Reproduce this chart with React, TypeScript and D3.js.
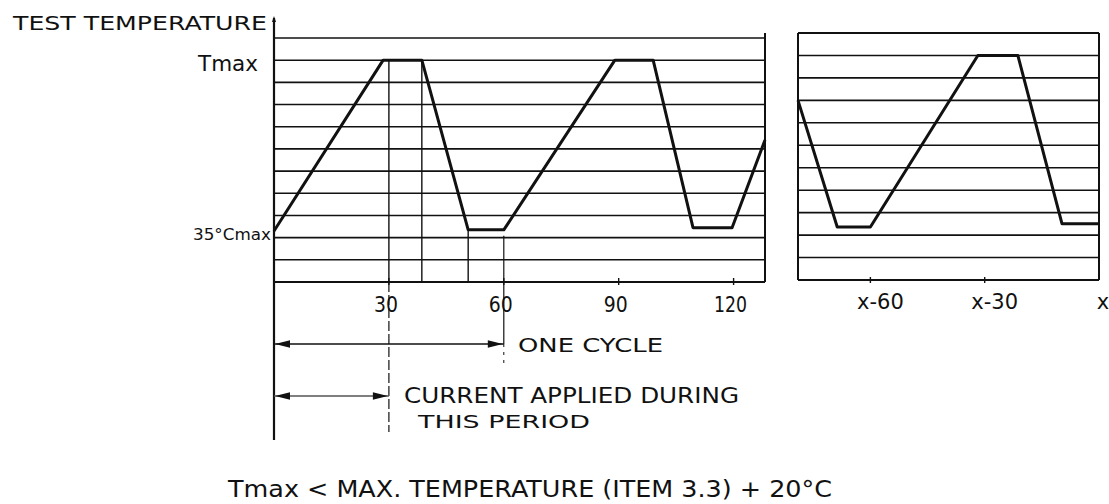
import React from "react";
import * as d3 from "d3";

// ---- data ----
const leftTimes = [0, 28.5, 38.6, 50.7, 60, 89, 99, 109.4, 119.6, 128.2];
const leftLevels = [2.3, 10, 10, 2.35, 2.35, 10, 10, 2.45, 2.45, 6.4];
const rightTimes = [-79, -68.7, -60, -31.8, -21.3, -9.7, 0];
const rightLevels = [8.0, 2.36, 2.36, 10, 10, 2.5, 2.5];
const gridLevels = d3.range(0, 12);
const leftTickValues = [30, 60, 90, 120];
const leftTickLabels = ["30", "60", "90", "120"];
const rightTickValues = [-60, -30, 0];
const rightTickLabels = ["x-60", "x-30", "x"];
const oneCycle = [0, 60];
const currentPeriod = [0, 30];

const W = 1109;
const H = 504;
const FONT = "'DejaVu Sans', 'Liberation Sans', sans-serif";

export default function App() {
  const xL = d3.scaleLinear().domain([0, 128.2]).range([274, 765]);
  const yL = d3.scaleLinear().domain([0, 11]).range([282, 38]);
  const xR = d3.scaleLinear().domain([-79, 0]).range([798, 1099]);
  const yR = d3.scaleLinear().domain([0, 11]).range([280, 33]);

  const lineL = d3
    .line<number>()
    .x((_, i) => xL(leftTimes[i]))
    .y((_, i) => yL(leftLevels[i]));
  const lineR = d3
    .line<number>()
    .x((_, i) => xR(rightTimes[i]))
    .y((_, i) => yR(rightLevels[i]));

  const ink = "#111";
  const yAxisBottom = 440;
  const ocY = 344;
  const cpY = 396;

  const arrowHead = (x: number, y: number, dir: number, key: string) => {
    const len = 15;
    const hw = 3.8;
    const p = `M${x},${y} L${x - dir * len},${y - hw} L${x - dir * len},${y + hw} Z`;
    return <path key={key} d={p} fill={ink} />;
  };

  return (
    <svg
      width={W}
      height={H}
      style={{ position: "absolute", left: 0, top: 0, background: "#fff" }}
      fontFamily={FONT}
    >
      <rect x={0} y={0} width={W} height={H} fill="#fff" />

      {/* Left panel grid */}
      {gridLevels.map((g) => (
        <line
          key={"gl" + g}
          x1={xL(0)}
          x2={xL(128.2)}
          y1={yL(g)}
          y2={yL(g)}
          stroke={ink}
          strokeWidth={g === 0 ? 2 : 1.6}
        />
      ))}
      <line x1={xL(128.2)} x2={xL(128.2)} y1={33} y2={yL(0)} stroke={ink} strokeWidth={2} />
      {/* left vertical axis */}
      <line x1={xL(0)} x2={xL(0)} y1={18} y2={yAxisBottom} stroke={ink} strokeWidth={2.2} />
      <path d={`M${xL(0)},16 l-2,6 l4,0 Z`} fill={ink} />

      {/* Right panel grid */}
      {gridLevels.map((g) => (
        <line
          key={"gr" + g}
          x1={xR(-79)}
          x2={xR(0)}
          y1={yR(g)}
          y2={yR(g)}
          stroke={ink}
          strokeWidth={g === 0 || g === 11 ? 2 : 1.6}
        />
      ))}
      <line x1={xR(-79)} x2={xR(-79)} y1={yR(11)} y2={yR(0)} stroke={ink} strokeWidth={2} />
      <line x1={xR(0)} x2={xR(0)} y1={yR(11)} y2={yR(0)} stroke={ink} strokeWidth={2} />

      {/* vertical reference lines, left panel */}
      <line x1={xL(30)} x2={xL(30)} y1={yL(10)} y2={yL(0)} stroke={ink} strokeWidth={1.4} />
      <line x1={xL(30)} x2={xL(30)} y1={yL(0)} y2={432} stroke={ink} strokeWidth={1.2} strokeDasharray="10 3" />
      <line x1={xL(leftTimes[2])} x2={xL(leftTimes[2])} y1={yL(10)} y2={yL(0)} stroke={ink} strokeWidth={1.4} />
      <line x1={xL(leftTimes[3])} x2={xL(leftTimes[3])} y1={yL(leftLevels[3])} y2={yL(0)} stroke={ink} strokeWidth={1.4} />
      <line x1={xL(60)} x2={xL(60)} y1={yL(leftLevels[4]) + 6} y2={ocY} stroke={ink} strokeWidth={1.2} />
      <line x1={xL(60)} x2={xL(60)} y1={ocY} y2={368} stroke={ink} strokeWidth={1} strokeDasharray="3 5" />

      {/* tick marks */}
      {leftTickValues.map((t) => (
        <line key={"tl" + t} x1={xL(t)} x2={xL(t)} y1={yL(0) - 4} y2={yL(0) + 3} stroke={ink} strokeWidth={1.4} />
      ))}
      {rightTickValues.slice(0, 2).map((t) => (
        <line key={"tr" + t} x1={xR(t)} x2={xR(t)} y1={yR(0) - 3} y2={yR(0) + 3} stroke={ink} strokeWidth={1.4} />
      ))}

      {/* curves */}
      <path d={lineL(leftTimes) || ""} fill="none" stroke={ink} strokeWidth={3} strokeLinejoin="round" />
      <path d={lineR(rightTimes) || ""} fill="none" stroke={ink} strokeWidth={3} strokeLinejoin="round" />

      {/* tick labels */}
      {leftTickValues.map((t, i) => (
        <text
          key={"ll" + t}
          x={xL(t) - 3}
          y={312}
          fontSize={21}
          textAnchor="middle"
          textLength={i === 3 ? 33 : 24}
          lengthAdjust="spacingAndGlyphs"
          fill={ink}
        >
          {leftTickLabels[i]}
        </text>
      ))}
      {rightTickValues.map((t, i) => (
        <text
          key={"rl" + t}
          x={xR(t) + (i === 2 ? 4 : 10)}
          y={309}
          fontSize={21}
          textAnchor="middle"
          fill={ink}
        >
          {rightTickLabels[i]}
        </text>
      ))}

      {/* axis labels */}
      <text x={13} y={30} fontSize={20} textLength={254} lengthAdjust="spacingAndGlyphs" fill={ink}>
        TEST TEMPERATURE
      </text>
      <text x={258} y={71} fontSize={22} textAnchor="end" textLength={60} lengthAdjust="spacingAndGlyphs" fill={ink}>
        Tmax
      </text>
      <text x={271} y={240} fontSize={15} textAnchor="end" textLength={78} lengthAdjust="spacingAndGlyphs" fill={ink}>
        35°Cmax
      </text>

      {/* one cycle arrow */}
      <line x1={xL(oneCycle[0])} x2={xL(oneCycle[1])} y1={ocY} y2={ocY} stroke={ink} strokeWidth={1.3} />
      {arrowHead(xL(oneCycle[0]) + 1, ocY, -1, "oc1")}
      {arrowHead(xL(oneCycle[1]) - 1, ocY, 1, "oc2")}
      <text x={518} y={352} fontSize={19} textLength={145} lengthAdjust="spacingAndGlyphs" fill={ink}>
        ONE CYCLE
      </text>

      {/* current period arrow */}
      <line x1={xL(currentPeriod[0])} x2={xL(currentPeriod[1])} y1={cpY} y2={cpY} stroke="#555" strokeWidth={1.6} />
      {arrowHead(xL(currentPeriod[0]) + 1, cpY, -1, "cp1")}
      {arrowHead(xL(currentPeriod[1]) - 1, cpY, 1, "cp2")}
      <text x={404} y={403} fontSize={21} textLength={335} lengthAdjust="spacingAndGlyphs" fill={ink}>
        CURRENT APPLIED DURING
      </text>
      <text x={418} y={428} fontSize={17} textLength={172} lengthAdjust="spacingAndGlyphs" fill={ink}>
        THIS PERIOD
      </text>

      {/* footnote */}
      <text x={228} y={497} fontSize={23} textLength={604} lengthAdjust="spacingAndGlyphs" fill={ink}>
        Tmax &lt; MAX. TEMPERATURE (ITEM 3.3) + 20°C
      </text>
    </svg>
  );
}
